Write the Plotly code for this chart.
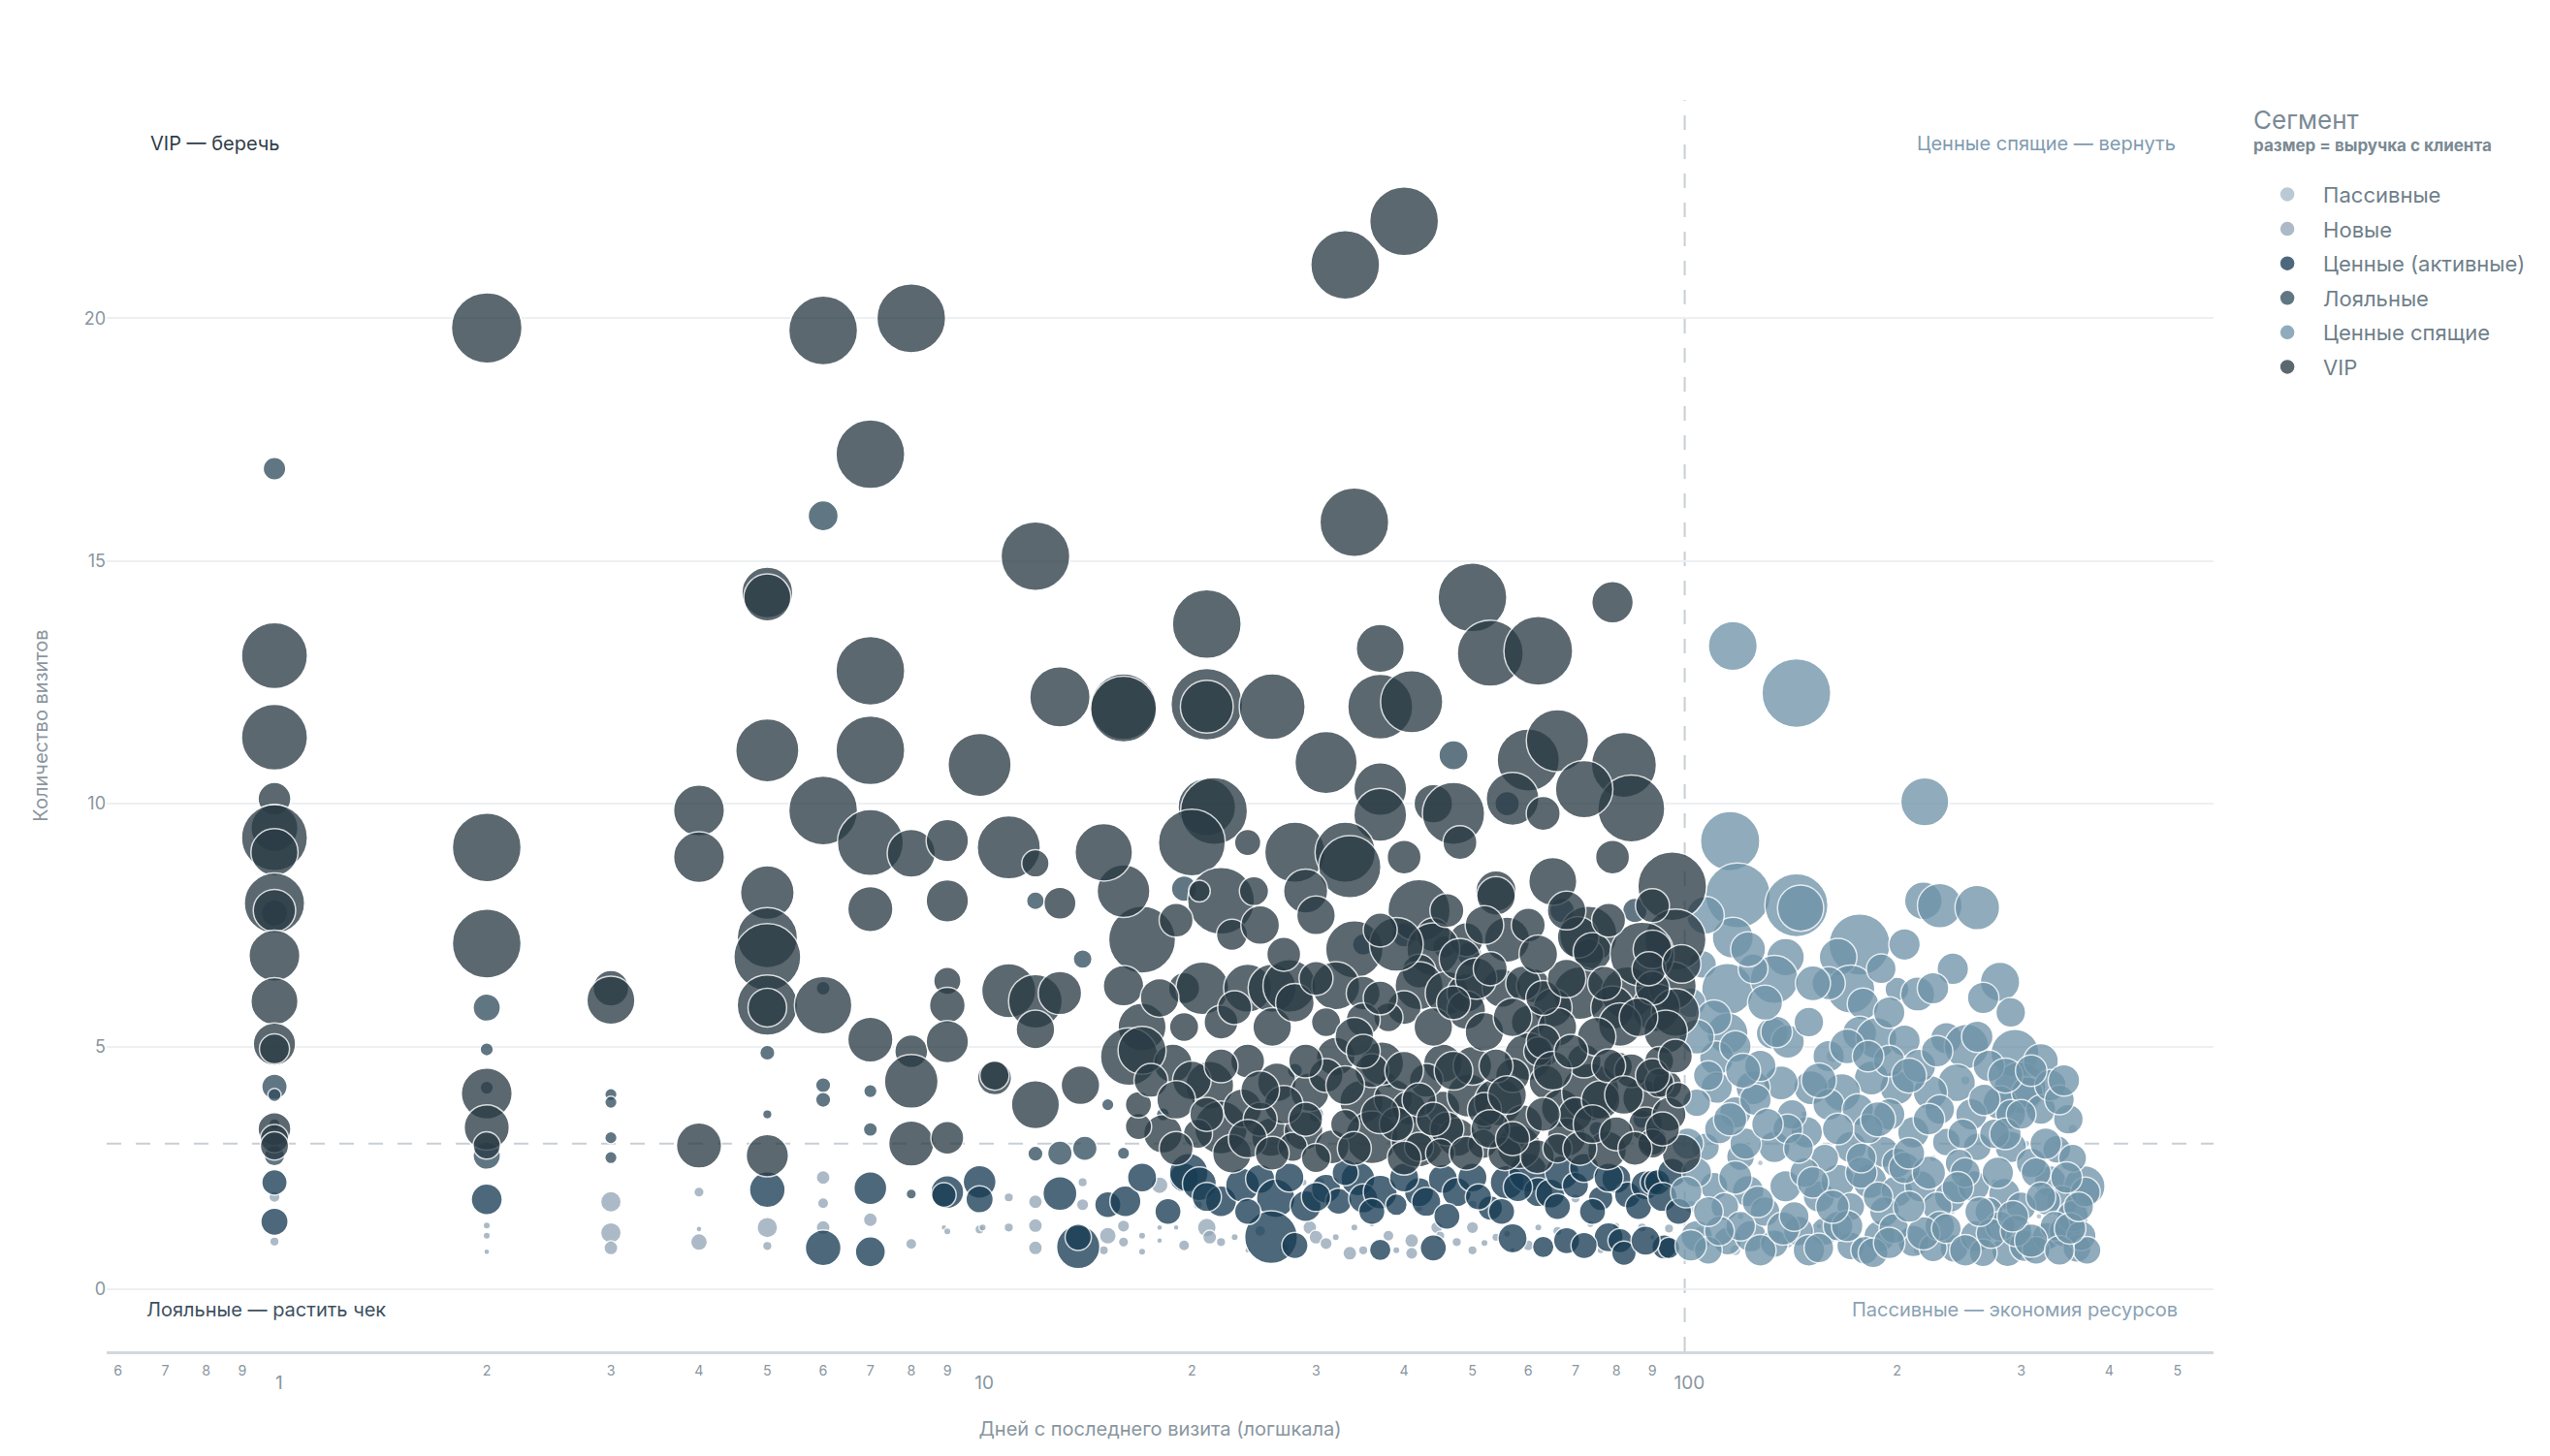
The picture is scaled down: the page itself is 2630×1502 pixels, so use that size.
import plotly.graph_objects as go

# Recency (days since last visit), frequency (visits) and revenue (тыс. ₽) per customer segment

passive_days = [105, 112, 120, 128, 135, 148, 155, 162, 170, 178,
                190, 205, 214, 225, 240, 250, 262, 275, 290, 305,
                318, 330, 345, 355, 370, 108, 102, 118, 140, 165]
passive_visits = [1.2, 0.9, 1.5, 2.6, 1.1, 3.6, 1.3, 4.8, 2.4, 1.0,
                  3.2, 1.4, 0.8, 2.7, 1.6, 4.3, 1.0, 2.2, 1.3, 3.0,
                  1.5, 0.9, 2.5, 3.3, 1.7, 4.1, 1.7, 0.8, 0.95, 1.15]
passive_rev = [10, 4, 6, 4, 10, 6, 4, 20, 4, 10,
               6, 4, 10, 6, 4, 10, 4, 6, 10, 6,
               4, 6, 4, 10, 6, 6, 20, 14, 14, 10]

new_days = [1, 1, 2, 2, 2, 3, 3, 3, 4, 4,
            4, 5, 5, 6, 6, 6, 7, 8, 8.9, 9,
            10, 10.1, 11, 11, 12, 12, 12, 14, 14, 15.2,
            16, 16, 17, 17, 18, 18, 18, 19, 20.4, 21,
            21.2, 22, 23, 24, 28.8, 29.4, 30, 30.4, 31, 32,
            33.5, 34, 35, 36, 41, 41, 42, 44.5, 47.5, 50,
            50, 50, 54, 56, 57, 62, 70, 73.5, 87, 90,
            92, 15, 19.5, 25, 27, 38, 39, 45, 52, 60,
            66, 76, 80, 95]
new_visits = [1.9, 0.98, 1.31, 1.1, 0.77, 1.8, 1.16, 0.85, 2.0, 1.24,
              0.97, 1.27, 0.89, 2.3, 1.77, 1.27, 1.43, 0.93, 1.27, 1.19,
              1.23, 1.27, 1.89, 1.27, 1.8, 1.31, 0.85, 2.2, 1.74, 1.1,
              1.3, 0.97, 1.1, 0.77, 1.27, 1.0, 2.14, 1.27, 1.74, 1.27,
              1.07, 0.97, 1.07, 0.8, 2.2, 1.27, 1.07, 2.2, 0.94, 1.07,
              0.74, 1.27, 0.8, 1.34, 1.0, 0.74, 1.67, 1.27, 0.97, 1.27,
              0.8, 1.74, 1.07, 1.14, 0.8, 1.27, 1.87, 1.34, 1.27, 1.07,
              1.07, 0.8, 0.9, 1.2, 0.85, 1.1, 0.8, 1.1, 0.95, 0.9,
              1.2, 0.8, 1.3, 1.25]
new_rev = [14, 10, 6, 6, 4, 48, 48, 22, 12, 4,
           32, 48, 10, 22, 14, 22, 22, 14, 2, 6,
           10, 6, 10, 10, 22, 22, 22, 10, 17, 32,
           17, 12, 6, 6, 4, 3, 32, 2, 10, 40,
           22, 10, 6, 3, 6, 22, 22, 10, 17, 6,
           22, 6, 10, 4, 22, 17, 6, 17, 10, 17,
           10, 10, 8, 6, 4, 6, 10, 6, 10, 4,
           3, 10, 14, 14, 10, 14, 6, 10, 6, 14,
           10, 6, 6, 10]

active_days = [1, 1, 2, 5, 6, 7, 7, 9, 10, 10,
               8.9, 13, 15.2, 16.1, 19.5, 19.8, 20.5, 22, 23.6, 25,
               26.3, 29, 31, 32.3, 34.4, 35, 37, 39, 42, 45.4,
               47.5, 53, 56, 60, 62, 64.5, 67, 70, 76, 80,
               83, 88, 90, 91.5, 96, 13.8, 13.8, 25.9, 37, 63,
               68, 78, 81, 82, 93.5, 95,
               17, 18.5, 21, 24, 27.5, 30, 33, 36, 40, 43,
               46, 50, 51, 55, 58, 66, 72, 74, 78, 86,
               93, 98, 28, 44, 57, 72, 88]
active_visits = [2.2, 1.39, 1.85, 2.05, 0.85, 2.08, 0.77, 2.0, 2.21, 1.85,
                 1.94, 1.97, 1.74, 1.81, 2.3, 2.4, 2.17, 1.81, 2.14, 2.27,
                 1.87, 1.71, 2.07, 1.81, 2.27, 1.87, 2.0, 1.74, 2.0, 2.27,
                 2.0, 1.67, 2.2, 2.4, 2.0, 1.97, 2.4, 2.14, 1.87, 2.27,
                 1.94, 2.14, 2.2, 2.2, 2.4, 0.87, 1.07, 1.07, 0.81, 0.87,
                 1.0, 1.07, 1.0, 0.74, 0.87, 0.85,
                 2.3, 1.6, 1.9, 1.6, 2.3, 1.9, 2.4, 1.6, 2.3, 1.8,
                 1.5, 2.3, 1.9, 1.6, 2.1, 1.7, 2.5, 1.6, 2.3, 1.7,
                 1.9, 1.6, 0.9, 0.85, 1.05, 0.9, 1.0]
active_rev = [73, 84, 109, 144, 144, 122, 102, 122, 122, 84,
              68, 130, 78, 109, 96, 168, 130, 109, 130, 96,
              168, 109, 96, 78, 130, 96, 130, 53, 96, 96,
              96, 68, 130, 168, 96, 96, 130, 78, 68, 96,
              78, 96, 68, 73, 96, 212, 78, 314, 53, 53,
              78, 96, 68, 68, 68, 53,
              96, 78, 96, 78, 96, 96, 78, 78, 96, 96,
              78, 96, 78, 78, 96, 78, 96, 78, 96, 78,
              96, 78, 78, 78, 96, 78, 96]

loyal_days = [1, 1, 1, 1, 1, 1, 2, 2, 2, 2,
              3, 3, 3, 3, 5, 5, 6, 6, 6, 6,
              7, 7, 8, 12, 12, 14, 15.2, 16, 40, 47,
              56, 18.2, 28, 45.6, 19.5, 64, 85, 67, 35, 49.5,
              87, 30, 38, 52, 75, 14.1, 13]
loyal_visits = [16.9, 7.75, 4.17, 4.0, 2.75, 3.4, 5.8, 4.94, 4.15, 2.75,
                4.01, 3.85, 3.12, 2.71, 4.87, 3.6, 15.93, 6.2, 4.2, 3.9,
                4.08, 3.29, 1.96, 8.0, 2.79, 6.8, 3.8, 2.8, 7.3, 11.0,
                10.0, 3.6, 4.5, 7.05, 8.25, 4.8, 7.8, 7.8, 7.1, 6.9,
                3.5, 3.6, 4.3, 3.4, 3.3, 2.9, 2.8]
loyal_rev = [58, 78, 73, 20, 48, 14, 84, 20, 20, 84,
             17, 17, 17, 17, 26, 10, 102, 22, 26, 26,
             20, 22, 12, 36, 26, 40, 17, 17, 68, 96,
             68, 20, 26, 58, 73, 40, 68, 68, 53, 68,
             40, 26, 26, 30, 26, 68, 68]

sleeping_days = [117, 144, 219, 116, 119, 144, 146, 218, 230, 260,
                 117, 139, 177, 165, 280, 106, 115, 134, 172, 179,
                 200, 214, 115, 133, 111, 177, 187, 205, 235, 251,
                 294, 299, 280, 306, 243, 223, 200, 184, 167, 151,
                 137, 125, 111, 104, 118, 149, 172, 191, 211, 235,
                 260, 290, 337, 107, 120, 134, 110, 123, 139, 155,
                 165, 183, 200, 216, 238, 257, 284, 330, 369, 343,
                 326, 104, 115, 124, 134, 158, 172, 189, 211, 241,
                 259, 287, 304, 326, 346, 360,
                 118, 128, 140, 160, 195, 215, 270, 320, 150, 108,
                 126, 142, 160, 176, 195, 230, 255, 290, 320, 350,
                 112, 122, 140, 158, 182, 200, 245, 275, 310, 355,
                 104, 114, 130, 148, 172, 192, 205, 228, 250, 270,
                 300, 315, 355, 370, 108, 120, 145, 150, 165, 180,
                 198, 225, 230, 265, 280, 315, 335, 365, 372, 102,
                 110, 125, 160, 190, 205, 240, 290, 330,
                 102, 112, 128, 138, 155, 170, 185, 195, 218, 235,
                 250, 272, 295, 310, 340, 352, 100.5, 108, 118, 127,
                 143, 152, 162, 178, 188, 208, 222, 244, 262, 278,
                 292, 320, 348, 362, 101, 116, 131, 145, 165, 178,
                 188, 208, 222, 248, 266, 285, 300, 325, 340, 104,
                 121, 135, 155, 170, 182, 208, 228, 260, 285, 310,
                 345, 107, 123, 130, 152, 195, 225, 265]
sleeping_visits = [13.25, 12.28, 10.04, 9.23, 8.11, 7.91, 7.85, 8.0, 7.9, 7.86,
                   7.24, 6.84, 7.1, 6.84, 6.33, 6.69, 6.18, 6.38, 6.18, 5.88,
                   6.18, 6.08, 5.27, 5.27, 4.76, 5.27, 5.17, 5.12, 5.17, 5.0,
                   4.86, 4.15, 3.84, 4.05, 4.25, 4.05, 4.15, 4.35, 4.05, 4.15,
                   4.25, 4.15, 4.15, 3.84, 3.64, 3.23, 2.93, 2.83, 3.23, 3.03,
                   2.93, 2.93, 2.88, 2.93, 2.73, 2.93, 2.12, 2.02, 2.12, 1.91,
                   2.22, 2.22, 2.02, 2.12, 1.91, 2.12, 1.96, 2.22, 2.12, 1.81,
                   1.81, 1.09, 0.99, 1.09, 0.94, 1.19, 0.89, 1.09, 0.99, 0.84,
                   1.09, 0.79, 0.89, 1.09, 1.19, 0.84,
                   5.0, 4.6, 5.1, 4.8, 4.7, 4.6, 4.6, 4.7, 5.5, 4.4,
                   3.9, 3.6, 3.8, 3.7, 3.6, 3.7, 3.6, 3.6, 3.7, 3.5,
                   3.3, 3.0, 3.3, 2.7, 3.3, 2.6, 2.6, 3.2, 2.6, 2.7,
                   2.4, 1.7, 1.6, 2.4, 1.7, 1.6, 2.5, 1.7, 2.4, 1.6,
                   1.7, 2.4, 1.5, 2.0, 0.8, 1.3, 1.2, 0.8, 1.3, 0.8,
                   1.25, 0.85, 1.3, 0.75, 1.3, 0.8, 1.3, 1.1, 0.8, 5.9,
                   5.6, 6.6, 6.3, 6.6, 7.1, 6.6, 5.7, 4.2,
                   0.9, 1.2, 0.8, 1.25, 0.85, 1.3, 0.75, 0.95, 1.15, 1.25,
                   0.8, 1.15, 1.2, 1.0, 0.8, 1.25, 2.0, 1.6, 2.3, 1.8,
                   1.5, 2.2, 1.7, 2.4, 1.9, 1.7, 2.4, 2.1, 1.6, 2.4,
                   1.5, 1.9, 2.3, 1.7, 3.0, 3.5, 3.4, 2.9, 3.3, 2.7,
                   3.5, 2.8, 3.5, 3.2, 3.9, 3.2, 3.6, 3.0, 3.9, 5.2,
                   4.5, 5.3, 4.3, 5.0, 4.8, 4.4, 4.9, 5.2, 4.4, 4.5,
                   4.3, 7.7, 7.0, 5.9, 6.3, 5.7, 6.2, 6.0]
sleeping_rev = [270, 533, 260, 397, 476, 449, 240, 160, 225, 225,
                190, 160, 422, 160, 175, 88, 300, 260, 260, 112,
                65, 132, 190, 112, 132, 132, 190, 112, 112, 225,
                260, 300, 132, 112, 160, 132, 132, 132, 160, 132,
                132, 132, 112, 88, 112, 112, 112, 112, 112, 88,
                88, 112, 88, 88, 88, 112, 88, 112, 112, 112,
                132, 132, 112, 112, 112, 112, 112, 112, 190, 112,
                88, 112, 88, 112, 88, 88, 88, 112, 112, 88,
                112, 112, 112, 88, 112, 88,
                112, 112, 125, 112, 112, 125, 112, 138, 100, 100,
                112, 100, 112, 112, 112, 100, 112, 100, 100, 100,
                100, 112, 100, 88, 100, 100, 88, 100, 100, 88,
                100, 88, 100, 100, 88, 100, 112, 100, 100, 88,
                100, 100, 112, 100, 88, 100, 100, 112, 100, 88,
                100, 88, 100, 88, 100, 88, 100, 100, 88, 100,
                138, 100, 125, 100, 112, 112, 100, 112,
                112, 100, 112, 125, 100, 112, 100, 112, 125, 100,
                112, 100, 112, 125, 100, 112, 112, 100, 125, 112,
                100, 112, 125, 112, 100, 112, 125, 112, 100, 112,
                112, 100, 112, 100, 112, 125, 112, 100, 112, 100,
                138, 112, 112, 100, 112, 112, 100, 112, 100, 138,
                138, 112, 138, 138, 112, 138, 112, 112, 138, 112,
                112, 160, 138, 138, 138, 112, 112, 112]

vip_days = [1, 1, 1, 1, 1, 1, 1, 1, 1, 1,
            1, 1, 1, 1, 1, 2, 2, 2, 2, 2,
            2, 3, 3, 4, 4, 4, 5, 5, 5, 5,
            5, 5, 5, 5, 5, 6, 6, 6, 7, 7,
            7, 7, 7, 7, 8, 8, 8, 8, 8, 9,
            9, 9, 9, 9, 9, 10, 10.5, 10.5, 11, 11,
            12, 12, 12, 12, 12, 13, 16, 16, 21, 21,
            26, 37, 41, 13, 60, 66, 82, 84, 72, 57,
            63, 79, 37, 37, 44, 47, 48, 21, 21.5, 20,
            24, 28, 33, 33.5, 40, 54, 54, 65, 96, 97,
            73, 73, 56, 42, 34, 44, 49, 44, 42, 17,
            16, 15, 22, 22.8, 20.5, 24.5, 13, 16, 19.5, 20.7,
            24, 26, 27.5, 32, 35, 42, 46, 49, 55, 61,
            71, 83, 96, 91, 79, 65, 49, 40, 38, 35,
            31, 26, 22, 17, 19.5, 60, 66, 81, 97, 94,
            39, 48, 50.6, 59, 63, 70.6, 74, 87, 40, 33,
            34, 50, 79, 21, 53, 62, 37, 31, 29,
            16.3, 18.8, 21.2, 22, 23.6, 26.4, 25.9, 29.4, 28.8, 32,
            34.8, 36, 38.6, 40.6, 41.8, 45.4, 47.5, 49.4, 51.7, 54.4,
            58.2, 60, 63.6, 66.7, 68, 73.5, 77.6, 80.4, 87, 90,
            94.5, 99, 18.2, 20.4, 22.8, 27.8, 31.6, 55.6, 61.8, 42,
            17, 37.2, 45.4, 13.9, 16.8, 16.8, 20, 24, 27, 31,
            33, 36, 39, 43, 46, 50, 52, 57, 59, 62,
            70, 72, 76, 84, 88, 92, 95, 66, 45, 30,
            25, 90, 90, 92, 98, 90,
            18, 23, 28, 30, 34, 37, 44, 47, 52, 53,
            57, 63, 68, 75, 77, 86, 89, 99, 17.5, 19,
            22, 25, 29, 33, 35, 40, 42, 47, 54, 56,
            65, 69, 78, 82, 90, 97, 19, 21, 24, 26,
            29, 34, 37, 40, 44, 49, 53, 57, 63, 71,
            74, 80, 85, 93, 19, 25, 27, 30, 37, 46,
            52, 60, 62, 68, 78, 90]
vip_visits = [13.05, 11.37, 10.1, 9.5, 9.3, 9.0, 7.95, 7.8, 6.87, 5.93,
              5.05, 4.95, 3.3, 3.1, 2.95, 19.8, 9.1, 7.12, 4.03, 3.33,
              2.96, 6.2, 5.95, 9.86, 8.9, 2.96, 14.35, 14.25, 11.1, 8.17,
              7.24, 6.84, 5.85, 5.8, 2.75, 19.75, 9.86, 5.85, 17.2, 12.74,
              11.1, 9.2, 7.83, 5.14, 20.0, 8.98, 4.9, 4.28, 3.0, 9.24,
              8.0, 6.35, 5.85, 5.1, 3.12, 10.8, 4.35, 4.4, 9.1, 6.15,
              15.1, 8.77, 5.93, 5.35, 3.8, 12.2, 12.0, 11.95, 12.05, 12.0,
              12.0, 12.0, 12.1, 7.95, 10.9, 11.3, 10.8, 9.9, 10.3, 10.1,
              9.8, 8.9, 10.3, 9.77, 10.0, 9.8, 9.2, 9.93, 9.85, 9.2,
              9.2, 9.0, 9.0, 8.7, 8.9, 8.2, 8.1, 8.4, 8.3, 7.2,
              7.3, 6.9, 7.2, 7.8, 7.0, 7.3, 7.2, 7.0, 6.55, 7.2,
              8.2, 9.0, 8.0, 7.3, 8.2, 8.2, 6.1, 6.25, 6.2, 6.2,
              6.2, 6.2, 6.25, 6.25, 6.1, 6.25, 6.1, 6.1, 6.2, 6.25,
              6.1, 6.1, 6.25, 5.8, 5.8, 5.8, 5.75, 5.8, 5.6, 5.55,
              5.5, 5.4, 5.5, 5.4, 5.4, 5.5, 5.4, 5.45, 5.7, 5.3,
              7.1, 6.8, 6.4, 6.3, 6.0, 7.25, 6.95, 6.9, 22.0, 21.1,
              15.8, 14.25, 14.15, 13.7, 13.1, 13.15, 13.2, 10.85, 8.2,
              4.79, 4.65, 4.2, 3.33, 3.73, 4.26, 3.13, 4.06, 3.26, 4.79,
              3.86, 3.13, 3.93, 3.73, 3.06, 3.73, 3.13, 3.99, 2.99, 3.86,
              2.93, 4.79, 4.26, 3.73, 3.13, 4.06, 2.86, 4.59, 3.93, 3.06,
              4.2, 2.79, 3.2, 3.2, 2.79, 2.93, 2.93, 2.79, 2.73, 2.93,
              4.92, 4.65, 4.65, 4.2, 3.35, 3.8, 4.3, 4.7, 3.8, 4.4,
              3.4, 4.5, 3.4, 4.3, 3.3, 4.6, 3.7, 4.4, 3.4, 4.9,
              3.6, 4.7, 3.9, 4.5, 3.4, 4.7, 3.6, 2.9, 2.8, 2.7,
              3.5, 7.0, 6.2, 4.25, 4.0, 3.0,
              6.0, 5.8, 5.9, 6.4, 5.2, 6.0, 5.4, 5.9, 5.3, 6.6,
              5.6, 5.1, 6.4, 5.2, 6.3, 5.6, 6.6, 6.7, 4.3, 3.9,
              4.6, 4.1, 4.7, 4.2, 4.9, 4.5, 3.9, 4.5, 4.6, 4.0,
              4.5, 4.9, 4.6, 4.0, 4.4, 4.8, 2.9, 3.6, 3.1, 2.8,
              3.5, 2.9, 3.6, 2.7, 3.5, 2.8, 3.3, 3.1, 3.6, 2.9,
              3.4, 3.2, 2.9, 3.3, 7.6, 7.5, 6.9, 7.7, 7.4, 7.8,
              7.5, 7.5, 6.9, 7.8, 7.6, 7.9]
vip_rev = [490, 490, 122, 250, 490, 250, 410, 202, 292, 250,
           202, 102, 122, 90, 90, 562, 533, 533, 292, 230,
           84, 144, 260, 292, 292, 230, 292, 250, 449, 325,
           410, 504, 410, 168, 202, 533, 533, 372, 533, 533,
           533, 490, 230, 230, 533, 260, 122, 325, 230, 202,
           202, 84, 144, 202, 122, 449, 130, 96, 449, 330,
           533, 84, 325, 168, 260, 410, 490, 490, 578, 314,
           490, 476, 436, 116, 436, 436, 476, 504, 372, 314,
           130, 130, 314, 314, 168, 436, 130, 372, 504, 504,
           78, 410, 410, 436, 130, 185, 168, 260, 533, 422,
           372, 109, 230, 436, 372, 130, 130, 314, 130, 504,
           314, 372, 504, 109, 53, 96, 212, 185, 109, 314,
           260, 260, 314, 260, 130, 260, 212, 168, 168, 130,
           314, 314, 260, 260, 212, 168, 168, 130, 96, 130,
           96, 168, 130, 260, 96, 130, 168, 212, 260, 212,
           325, 194, 194, 137, 137, 194, 168, 462, 533, 533,
           533, 533, 194, 533, 490, 533, 260, 436, 220,
           372, 168, 260, 314, 168, 168, 168, 168, 168, 168,
           212, 314, 168, 130, 314, 130, 168, 212, 96, 260,
           212, 260, 130, 168, 168, 372, 168, 96, 168, 96,
           96, 168, 168, 96, 168, 96, 130, 130, 130, 96,
           260, 212, 168, 168, 78, 78, 168, 130, 168, 130,
           96, 130, 130, 130, 130, 168, 130, 130, 168, 96,
           130, 130, 168, 130, 130, 96, 130, 96, 96, 96,
           130, 168, 130, 96, 73, 96,
           168, 130, 168, 130, 168, 130, 168, 130, 168, 130,
           168, 130, 168, 168, 130, 168, 130, 168, 130, 168,
           130, 168, 130, 168, 130, 168, 130, 168, 130, 168,
           168, 130, 130, 168, 130, 130, 130, 130, 168, 130,
           130, 130, 168, 130, 130, 130, 168, 130, 130, 130,
           168, 130, 130, 130, 130, 168, 130, 168, 130, 130,
           168, 130, 168, 168, 130, 130]

segments = [
    ("Пассивные", passive_days, passive_visits, passive_rev, "#a5bbc9"),
    ("Новые", new_days, new_visits, new_rev, "#93a6b6"),
    ("Ценные (активные)", active_days, active_visits, active_rev, "#183c54"),
    ("Лояльные", loyal_days, loyal_visits, loyal_rev, "#324d5f"),
    ("Ценные спящие", sleeping_days, sleeping_visits, sleeping_rev, "#6e93a8"),
    ("VIP", vip_days, vip_visits, vip_rev, "#2a3b45"),
]

max_rev = max(max(s[3]) for s in segments)
sizeref = 2.0 * max_rev / 74 ** 2
OPACITY = 0.77

fig = go.Figure()
for name, days, visits, rev, color in segments:
    fig.add_trace(go.Scatter(
        x=days, y=visits, mode="markers", name=name,
        legendgroup=name, showlegend=False,
        marker=dict(size=rev, sizemode="area", sizeref=sizeref, sizemin=3,
                    color=color, opacity=OPACITY,
                    line=dict(color="white", width=1.5)),
        hovertemplate="%{x} дн. · %{y} виз. · %{marker.size} тыс. ₽<extra>" + name + "</extra>",
    ))

# legend entries with one fixed dot size
for name, days, visits, rev, color in segments:
    fig.add_trace(go.Scatter(
        x=[None], y=[None], mode="markers", name=name, legendgroup=name,
        marker=dict(size=16, color=color, opacity=OPACITY,
                    line=dict(color="white", width=1.5)),
    ))

# пороги: 100 дней и 3 визита
fig.add_vline(x=100, line=dict(color="#c8ced3", width=2, dash="longdash"), layer="below")
fig.add_hline(y=3, line=dict(color="#c8ced3", width=2, dash="longdash"), layer="below")

notes = [
    ("VIP — беречь", 0.02, 0.965, "left", "#2f3e48"),
    ("Ценные спящие — вернуть", 0.983, 0.965, "right", "#7f9bb0"),
    ("Лояльные — растить чек", 0.018, 0.033, "left", "#3e5060"),
    ("Пассивные — экономия ресурсов", 0.984, 0.033, "right", "#8aa2b4"),
]
for text, x, y, anchor, color in notes:
    fig.add_annotation(text=text, x=x, y=y, xref="paper", yref="paper",
                       xanchor=anchor, yanchor="middle", showarrow=False,
                       font=dict(size=20, color=color))

fig.update_xaxes(
    type="log", range=[-0.238, 2.75], dtick="D1",
    showgrid=False, zeroline=False,
    showline=True, linecolor="#d3d8dc", linewidth=3,
    tickfont=dict(size=19, color="#8a969f"), ticklabelstandoff=4,
    title=dict(text="Дней с последнего визита (логшкала)", standoff=30,
               font=dict(size=20, color="#8a969f")),
)
fig.update_yaxes(
    range=[-1.28, 24.5], tickvals=[0, 5, 10, 15, 20],
    showgrid=True, gridcolor="#edf0f2", gridwidth=1.5,
    zeroline=False, showline=False,
    tickfont=dict(size=18, color="#8a969f"),
    title=dict(text="Количество визитов", standoff=31,
               font=dict(size=20, color="#8a969f")),
)

fig.update_layout(
    font=dict(family="Inter, 'Noto Sans', sans-serif"),
    plot_bgcolor="white", paper_bgcolor="white",
    margin=dict(l=102, r=327, t=95, b=96),
    legend=dict(
        x=1.018, y=0.995, xanchor="left", yanchor="top",
        itemwidth=64, tracegroupgap=4,
        font=dict(size=22, color="#6f7f8a"),
        title=dict(text="<span style='font-size:26px'>Сегмент</span><br>"
                        "<b><span style='font-size:17px'>размер = выручка с клиента</span></b><br>&nbsp;",
                   font=dict(size=18, color="#7a8a94")),
    ),
)

fig.write_html("out.html")
